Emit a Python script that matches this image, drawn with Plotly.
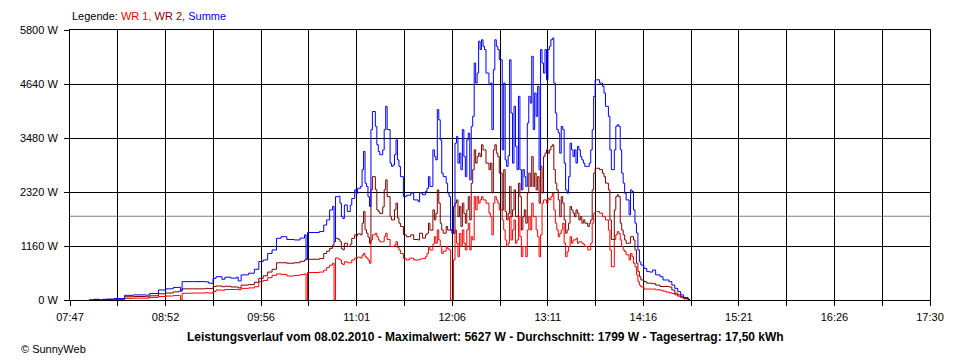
import plotly.graph_objects as go

# ---------------- data ----------------
TIMES = [
    "08:00", "08:03", "08:07", "08:09", "08:12", "08:17", "08:24", "08:30", "08:38", "08:41",
    "08:47", "08:52", "08:57", "09:01", "09:02", "09:03", "09:10", "09:19", "09:21", "09:24",
    "09:26", "09:30", "09:32", "09:36", "09:40", "09:41", "09:43", "09:48", "09:52", "09:55",
    "09:58", "10:01", "10:04", "10:07", "10:10", "10:14", "10:19", "10:23", "10:26", "10:27",
    "10:28", "10:36", "10:39", "10:41", "10:43", "10:45", "10:46", "10:47", "10:49", "10:50",
    "10:51", "10:52", "10:53", "10:55", "10:57", "10:58", "11:00", "11:01", "11:02", "11:04",
    "11:05", "11:06", "11:07", "11:08", "11:09", "11:10", "11:11", "11:12", "11:14", "11:15",
    "11:16", "11:17", "11:19", "11:20", "11:21", "11:22", "11:24", "11:25", "11:26", "11:27",
    "11:28", "11:29", "11:30", "11:31", "11:33", "11:35", "11:37", "11:38", "11:40", "11:43",
    "11:44", "11:46", "11:48", "11:49", "11:50", "11:51", "11:53", "11:54", "11:55", "11:56",
    "11:57", "11:58", "11:59", "12:00", "12:02", "12:03", "12:04", "12:05", "12:06", "12:07",
    "12:08", "12:09", "12:10", "12:11", "12:12", "12:13", "12:14", "12:15", "12:16", "12:17",
    "12:18", "12:19", "12:20", "12:21", "12:22", "12:23", "12:24", "12:25", "12:26", "12:27",
    "12:28", "12:29", "12:31", "12:32", "12:33", "12:34", "12:35", "12:36", "12:37", "12:38",
    "12:40", "12:41", "12:42", "12:43", "12:44", "12:45", "12:46", "12:47", "12:48", "12:49",
    "12:50", "12:51", "12:52", "12:53", "12:54", "12:55", "12:56", "12:57", "12:58", "12:59",
    "13:00", "13:01", "13:02", "13:03", "13:04", "13:05", "13:06", "13:07", "13:08", "13:09",
    "13:10", "13:11", "13:12", "13:13", "13:14", "13:15", "13:16", "13:17", "13:18", "13:19",
    "13:20", "13:21", "13:22", "13:23", "13:24", "13:25", "13:26", "13:27", "13:28", "13:29",
    "13:30", "13:31", "13:32", "13:33", "13:34", "13:35", "13:36", "13:38", "13:39", "13:40",
    "13:41", "13:42", "13:43", "13:44", "13:46", "13:48", "13:49", "13:50", "13:52", "13:53",
    "13:54", "13:56", "13:57", "13:58", "13:59", "14:00", "14:01", "14:02", "14:03", "14:04",
    "14:06", "14:07", "14:08", "14:09", "14:10", "14:11", "14:12", "14:13", "14:14", "14:16",
    "14:18", "14:20", "14:22", "14:24", "14:27", "14:29", "14:31", "14:33", "14:35", "14:37",
    "14:39", "14:41", "14:43", "14:46", "14:47",
]

SUMME = [
    0, 15, 0, 15, 20, 30, 100, 110, 105, 140,
    215, 240, 270, 275, 195, 395, 395, 390, 360, 465,
    500, 445, 490, 470, 490, 410, 540, 575, 660, 825,
    860, 1000, 1075, 1325, 1360, 1300, 1290, 1330, 1400, 875,
    1450, 1470, 1610, 1720, 1935, 2010, 1255, 2220, 2230, 2080,
    1790, 1750, 2040, 1900, 2040, 2180, 2365, 2290, 2400, 2440,
    2800, 3190, 2510, 2440, 2220, 2010, 3660, 4050, 3730, 3335,
    3190, 3120, 3225, 3660, 4160, 3660, 2940, 2870, 2900, 3120,
    3440, 3010, 2870, 2650, 2220, 2250, 2250, 2300, 2150, 2110,
    2300, 2260, 2330, 2400, 2650, 2440, 3225, 3080, 3010, 4090,
    3870, 3440, 2725, 2650, 2510, 2295, 2220, 1500, 1430, 2010,
    3370, 3510, 2940, 3155, 2800, 3660, 3080, 2650, 3440, 3585,
    2580, 3730, 3945, 5090, 4660, 4875, 5560, 5380, 5590, 5450,
    5380, 4875, 4625, 4660, 3660, 4950, 5590, 5450, 5380, 5160,
    3225, 4660, 3010, 2870, 3100, 5160, 4015, 2940, 4160, 3300,
    2800, 4375, 2800, 2365, 2800, 2650, 2440, 3800, 4375, 4230,
    5235, 3660, 4445, 3945, 4590, 2800, 5380, 5090, 4875, 5380,
    4730, 5380, 5450, 5590, 5627, 4660, 4015, 3660, 3590, 3155,
    3730, 3660, 2940, 2365, 2295, 2650, 3370, 3225, 3080, 3225,
    2940, 3300, 3225, 3080, 3010, 2940, 2870, 2870, 2940, 3225,
    3660, 4375, 4730, 4730, 4660, 4590, 4445, 4160, 3945, 3225,
    2800, 3225, 3730, 3765, 3730, 3225, 2725, 2510, 2295, 2150,
    1830, 2365, 2330, 1935, 1650, 1440, 1075, 820, 750, 680,
    610, 600, 645, 540, 500, 430, 430, 395, 320, 250,
    180, 110, 55, 15, 0,
]

WR2 = [
    0, 10, 0, 10, 12, 20, 70, 75, 70, 90,
    135, 150, 175, 190, 195, 240, 240, 250, 245, 290,
    300, 285, 295, 280, 280, 260, 320, 330, 380, 465,
    520, 600, 660, 800, 800, 790, 800, 830, 860, 875,
    875, 890, 1000, 1050, 1110, 1180, 1255, 1325, 1300, 1250,
    1100, 1080, 1220, 1150, 1200, 1325, 1400, 1380, 1420, 1400,
    1650, 1900, 1510, 1435, 1350, 1220, 2370, 2650, 2370, 1935,
    1900, 1860, 2000, 2370, 2580, 2220, 1790, 1720, 1720, 1940,
    2080, 1760, 1650, 1580, 1400, 1360, 1360, 1400, 1300, 1290,
    1435, 1330, 1400, 1435, 1650, 1500, 1935, 1720, 1860, 2365,
    2080, 1650, 1505, 1435, 1580, 1500, 1505, 1500, 1430, 1430,
    2080, 2150, 1790, 2010, 1580, 2080, 1860, 1650, 1935, 2220,
    1720, 2510, 2800, 3225, 2940, 3080, 3155, 3080, 3335, 3225,
    3225, 2940, 2800, 2940, 2300, 3225, 3335, 3155, 3080, 2725,
    1935, 2800, 1900, 1720, 1860, 2440, 1790, 1935, 2365, 1790,
    1800, 2510, 2220, 1505, 1790, 1935, 1650, 2300, 2725, 2440,
    3080, 2440, 2725, 2365, 2650, 2080, 2870, 2300, 3080, 3155,
    3225, 3155, 3225, 3300, 3335, 2800, 2510, 2365, 2150, 1790,
    2220, 2080, 1720, 1435, 1505, 1650, 2010, 1935, 1865, 1790,
    1935, 1865, 1720, 1790, 1650, 1720, 1650, 1580, 1650, 1720,
    2365, 2725, 2830, 2830, 2800, 2725, 2650, 2510, 2365, 1720,
    1300, 1935, 2220, 2260, 2220, 1650, 1505, 1400, 1290, 1220,
    1220, 1360, 1360, 1290, 1075, 790, 610, 500, 430, 395,
    360, 360, 350, 320, 290, 290, 290, 280, 215, 145,
    110, 70, 35, 10, 0,
]

WR1 = [
    0, 5, 0, 5, 8, 10, 35, 40, 40, 55,
    75, 85, 95, 95, 0, 145, 150, 155, 150, 180,
    215, 210, 225, 225, 230, 220, 250, 260, 285, 395,
    420, 480, 530, 560, 550, 515, 530, 545, 560, 0,
    590, 600, 640, 700, 750, 790, 0, 900, 880, 860,
    780, 760, 820, 800, 800, 860, 900, 900, 920, 900,
    960, 1000, 930, 900, 860, 790, 1290, 1400, 1435, 1360,
    1290, 1250, 1250, 1360, 1435, 1300, 1150, 1150, 1150, 1180,
    1250, 1130, 1075, 1000, 895, 860, 895, 900, 860, 860,
    880, 890, 930, 1000, 1150, 1075, 1200, 1360, 1220, 1505,
    1290, 1150, 1000, 1050, 1150, 1100, 1075, 0, 0, 860,
    1505, 1220, 930, 1430, 1150, 1505, 1220, 1075, 1505, 1650,
    1075, 1360, 1290, 2220, 1935, 2220, 2080, 2150, 2220, 2150,
    2150, 2080, 1865, 1790, 1400, 2080, 2220, 2150, 2080, 1935,
    1720, 1505, 1290, 1150, 1220, 1790, 1290, 1505, 1720, 1220,
    1290, 1790, 1360, 930, 1150, 1150, 930, 1505, 1790, 1505,
    2080, 1790, 1790, 1505, 1360, 930, 1400, 2080, 2150, 2150,
    2080, 2185, 2150, 2220, 2295, 1935, 1650, 1505, 1360, 1430,
    1505, 1650, 1220, 930, 1040, 1150, 1360, 1220, 1290, 1290,
    1325, 1220, 1250, 1250, 1220, 1200, 1150, 1075, 1075, 1220,
    1650, 1860, 1900, 1900, 1865, 1790, 1790, 1720, 1500, 1075,
    715, 1300, 1400, 1470, 1430, 1290, 1150, 1075, 1040, 970,
    860, 1000, 930, 790, 715, 540, 395, 320, 280, 235,
    235, 235, 235, 220, 210, 190, 170, 155, 140, 110,
    80, 50, 25, 5, 0,
]

AVERAGE_W = 1799
Y_TICKS = [0, 1160, 2320, 3480, 4640, 5800]
X_TICK_LABELS = ["07:47", "08:52", "09:56", "11:01", "12:06",
                 "13:11", "14:16", "15:21", "16:26", "17:30"]
TITLE = ("Leistungsverlauf vom 08.02.2010 - Maximalwert: 5627 W - "
         "Durchschnitt: 1799 W - Tagesertrag: 17,50 kWh")

COL_WR1 = "#FF0000"
COL_WR2 = "#800000"
COL_SUM = "#0000FF"


def to_min(s):
    h, m = s.split(":")
    return int(h) * 60 + int(m)


x = [to_min(t) for t in TIMES]
x_start = to_min(X_TICK_LABELS[0])
x_end = to_min(X_TICK_LABELS[-1])
n_int = (len(X_TICK_LABELS) - 1) * 2
tickvals = [x_start + (x_end - x_start) * i / n_int for i in range(n_int + 1)]
ticktext = [X_TICK_LABELS[i // 2] if i % 2 == 0 else "" for i in range(n_int + 1)]

fig = go.Figure()
for name, ys, col in [("WR 1", WR1, COL_WR1), ("WR 2", WR2, COL_WR2), ("Summe", SUMME, COL_SUM)]:
    fig.add_trace(go.Scatter(x=x, y=ys, name=name, mode="lines",
                             line=dict(color=col, width=1, shape="hv"),
                             hoverinfo="skip"))

fig.add_shape(type="line", xref="paper", x0=0, x1=1, yref="y",
              y0=AVERAGE_W, y1=AVERAGE_W,
              line=dict(color="#808080", width=1), layer="below")

# The page body has an 8px margin, so the figure is offset by 8px;
# plot area is aimed at x 60..930, y 30..300 in the window.
PAGE = 8
PL, PT, PW, PH = 60, 30, 870, 270
FONT = "Liberation Sans, Arial, sans-serif"
fig.update_layout(
    width=960 - PAGE, height=360 - PAGE,
    margin=dict(l=PL - PAGE, r=960 - PAGE - (PL - PAGE) - PW,
                t=PT - PAGE, b=360 - PAGE - (PT - PAGE) - PH, pad=0),
    paper_bgcolor="white", plot_bgcolor="white",
    showlegend=False,
    font=dict(family=FONT, size=11, color="black"),
)
fig.update_xaxes(
    range=[x_start, x_end], tickmode="array", tickvals=tickvals, ticktext=ticktext,
    showgrid=True, gridcolor="black", gridwidth=1,
    showline=True, linecolor="black", linewidth=1, mirror=True,
    ticks="outside", ticklen=5, tickcolor="black", tickwidth=1,
    zeroline=False, ticklabelstandoff=2,
)
fig.update_yaxes(
    range=[0, 5800], tickmode="array", tickvals=Y_TICKS,
    ticktext=[f"{v} W" for v in Y_TICKS],
    showgrid=True, gridcolor="black", gridwidth=1,
    showline=True, linecolor="black", linewidth=1, mirror=True,
    ticks="outside", ticklen=5, tickcolor="black", tickwidth=1,
    zeroline=False, ticklabelstandoff=4,
)


def px_x(px):
    return (px - PL) / PW


def px_y(py):
    return (PT + PH - py) / PH


legend_text = ("Legende: "
               f"<span style='color:{COL_WR1}'>WR 1,</span> "
               f"<span style='color:{COL_WR2}'>WR 2,</span> "
               f"<span style='color:{COL_SUM}'>Summe</span>")
fig.add_annotation(text=legend_text, xref="paper", yref="paper",
                   x=px_x(60), y=px_y(16.5), xanchor="left", yanchor="middle",
                   showarrow=False, font=dict(family=FONT, size=11, color="black"))
fig.add_annotation(text=f"<b>{TITLE}</b>", xref="paper", yref="paper",
                   x=px_x(480), y=px_y(337), xanchor="center", yanchor="middle",
                   showarrow=False, font=dict(family=FONT, size=12, color="black"))
fig.add_annotation(text="© SunnyWeb", xref="paper", yref="paper",
                   x=px_x(PAGE), y=px_y(349), xanchor="left", yanchor="middle",
                   showarrow=False, font=dict(family=FONT, size=11, color="black"))

fig.write_html("out.html")
